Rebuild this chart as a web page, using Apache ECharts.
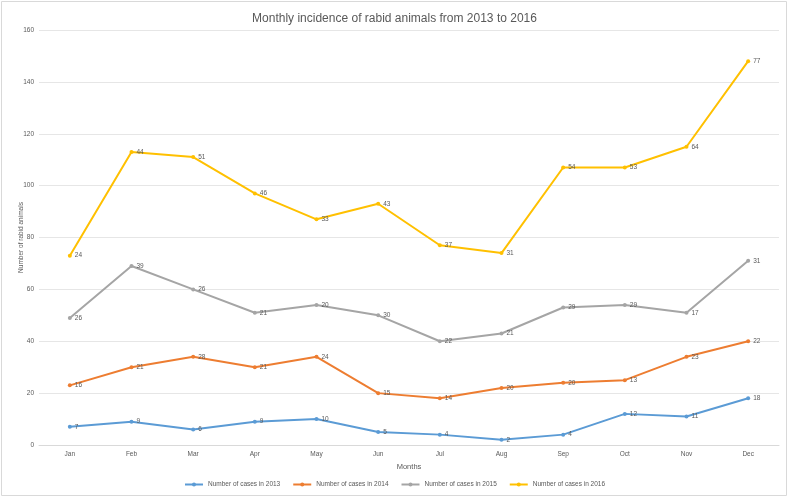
<!DOCTYPE html>
<html><head><meta charset="utf-8">
<script src="https://cdn.jsdelivr.net/npm/echarts@6/dist/echarts.min.js"></script>
<style>html,body{margin:0;padding:0;background:#fff}#c{width:789px;height:498px}</style>
</head><body><div id="c"></div>
<script>
const months = ['Jan','Feb','Mar','Apr','May','Jun','Jul','Aug','Sep','Oct','Nov','Dec'];
const cases2013 = [7,9,6,9,10,5,4,2,4,12,11,18];
const cases2014 = [16,21,28,21,24,15,14,20,20,13,23,22];
const cases2015 = [26,39,26,21,20,30,22,21,29,29,17,31];
const cases2016 = [24,44,51,46,33,43,37,31,54,53,64,77];
const seriesNames = ['Number of cases in 2013','Number of cases in 2014','Number of cases in 2015','Number of cases in 2016'];
const colors = ['#5B9BD5','#ED7D31','#A5A5A5','#FFC000'];
const allData = [cases2013, cases2014, cases2015, cases2016];
const font = 'Liberation Sans';
const chart = echarts.init(document.getElementById('c'));
chart.setOption({
  animation:false,
  textStyle:{fontFamily:font},
  title:{text:'Monthly incidence of rabid animals from 2013 to 2016',left:'center',top:8,
    textStyle:{fontSize:12,fontWeight:'normal',color:'#595959',fontFamily:font}},
  grid:{left:39,right:10,top:30,bottom:53,containLabel:false,outerBoundsMode:'none'},
  legend:{bottom:5,left:'center',itemWidth:18,itemHeight:5,itemGap:12,
    textStyle:{fontSize:6.5,color:'#595959'},data:seriesNames},
  xAxis:{type:'category',data:months,boundaryGap:true,name:'Months',nameLocation:'middle',nameGap:18,
    nameTextStyle:{fontSize:7.5,color:'#595959'},
    axisLine:{lineStyle:{color:'#D9D9D9'}},axisTick:{show:false},
    axisLabel:{fontSize:6.5,color:'#595959',margin:6}},
  yAxis:{type:'value',min:0,max:160,interval:20,name:'Number of rabid animals',nameLocation:'middle',nameGap:14,
    nameMoveOverlap:false,
    nameTextStyle:{fontSize:6.5,color:'#595959'},
    axisLine:{show:false},axisTick:{show:false},
    axisLabel:{fontSize:6.5,color:'#595959',margin:5},
    splitLine:{lineStyle:{color:'#E6E6E6'}}},
  series: allData.map((d,i)=>({
    name:seriesNames[i],type:'line',stack:'total',data:d,
    symbol:'circle',symbolSize:4,
    lineStyle:{width:2,color:colors[i]},itemStyle:{color:colors[i]},
    label:{show:true,position:'right',distance:3,fontSize:6.5,color:'#595959',
      formatter:p=>allData[i][p.dataIndex]}
  })),
  graphic:[{type:'rect',shape:{x:1.5,y:1.5,width:785,height:494},style:{fill:'none',stroke:'#D9D9D9',lineWidth:1}}]
});
</script></body></html>
